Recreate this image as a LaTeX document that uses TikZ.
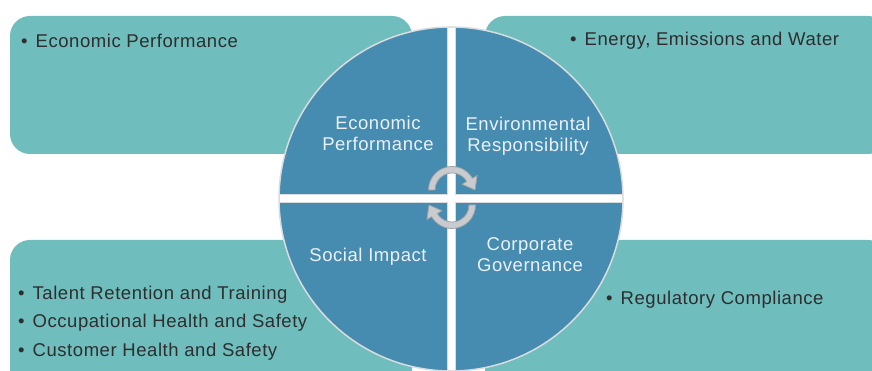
\documentclass[tikz,border=0pt]{standalone}
\usepackage{fontspec}
\setmainfont{Liberation Sans}[LetterSpace=3]

\definecolor{boxteal}{HTML}{6FBDBD}
\definecolor{quadblue}{HTML}{468BB0}
\definecolor{rimgray}{HTML}{D8DCDF}
\definecolor{cyclefill}{HTML}{C9CBCF}
\definecolor{cycleline}{HTML}{9EA2A8}
\definecolor{itemtext}{HTML}{2E2E2E}
\definecolor{quadtext}{HTML}{EAF1F6}

\newcommand{\itemdot}{\textbullet\hspace{8pt}}

\tikzset{
  topicbox/.style={fill=boxteal, rounded corners=20pt},
  quadrant/.style={fill=quadblue, draw=rimgray, line width=1pt},
  quadlabel/.style={text=quadtext, align=center, inner sep=0pt, font=\fontsize{18.5}{21}\selectfont},
  itemline/.style={text=itemtext, anchor=base west, inner sep=0pt, font=\fontsize{18.5}{22}\selectfont},
  cyclearrow/.style={fill=cyclefill, draw=cycleline, line width=0.8pt, line join=round}
}

\begin{document}
\begin{tikzpicture}[x=1pt,y=1pt]
    \useasboundingbox (0,0) rectangle (872,371);
    \clip (0,0) rectangle (872,371);

    % Topic boxes behind the wheel
    \fill[topicbox] (10,217) rectangle (412,355);
    \fill[topicbox] (485,217) rectangle (888,355);
    \fill[topicbox] (10,-30) rectangle (412,131);
    \fill[topicbox] (485,-30) rectangle (888,131);

    % Wheel: four quadrants split by a white cross
    \fill[white] (451,172) circle (172);
    \begin{scope}
        \clip (451,172) circle (172);
        \draw[quadrant] (447,176) rectangle (260,360); % top left
        \draw[quadrant] (455,176) rectangle (640,360); % top right
        \draw[quadrant] (447,168) rectangle (260,-20); % bottom left
        \draw[quadrant] (455,168) rectangle (640,-20); % bottom right
    \end{scope}
    \draw[rimgray, line width=1.5pt] (451,172) circle (172);

    % Quadrant titles
    \node[quadlabel] (econ) at (378,238) {Economic\\Performance};
    \node[quadlabel] (env) at (528,235) {Environmental\\Responsibility};
    \node[quadlabel] (social) at (368,114) {Social Impact};
    \node[quadlabel] (gov) at (530,116) {Corporate\\Governance};

    % Cycle arrows in the middle
    \begin{scope}[shift={(452,181)}]
        \draw[cyclearrow] (180:23.5) arc (180:30:23.5) -- (30:29) -- (0:23)
            -- (30:11.5) -- (30:17) arc (30:180:17) -- cycle;
    \end{scope}
    \begin{scope}[shift={(452,166)}]
        \draw[cyclearrow] (0:23.5) arc (0:-150:23.5) -- (-150:29) -- (180:23)
            -- (-150:11.5) -- (-150:17) arc (-150:0:17) -- cycle;
    \end{scope}

    % Topic lists
    \node[itemline] (econItem) at (21,323) {\itemdot Economic Performance};
    \node[itemline] (envItem) at (570,325) {\itemdot Energy, Emissions and Water};
    \node[itemline] (govItem) at (606,66) {\itemdot Regulatory Compliance};
    \node[itemline] (talentItem) at (18,71) {\itemdot Talent Retention and Training};
    \node[itemline] (ohsItem) at (18,43) {\itemdot Occupational Health and Safety};
    \node[itemline] (chsItem) at (18,14) {\itemdot Customer Health and Safety};
\end{tikzpicture}
\end{document}
